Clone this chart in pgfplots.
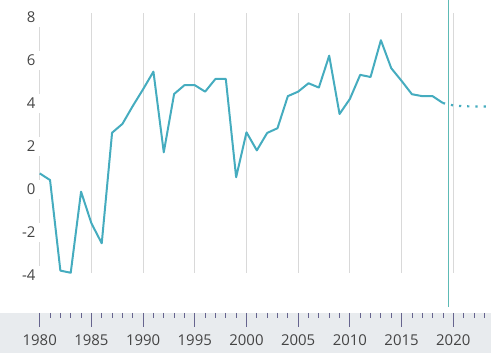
\documentclass[border=0pt]{standalone}
\usepackage{pgfplots}
\pgfplotsset{compat=1.18}
\usepackage{fontspec}
\setmainfont{Open Sans}
\definecolor{linec}{HTML}{45ACBF}
\definecolor{vline}{HTML}{5DBAB5}
\definecolor{gridc}{HTML}{D9D9D9}
\definecolor{bandc}{HTML}{E8EBEE}
\definecolor{tickc}{HTML}{66648E}
\definecolor{textc}{HTML}{444444}
\begin{document}
\begin{tikzpicture}
\begin{axis}[width=491bp,height=353bp,scale only axis,
  xmin=1976.16,xmax=2023.65,ymin=-7.61,ymax=8.8,
  axis lines=none, xtick=\empty, ytick=\empty, clip=true]
\path (axis cs:1976.16,-7.61) rectangle (axis cs:2023.65,8.8);
\fill[bandc] (axis cs:1976.16,-7.61) rectangle (axis cs:2023.65,-5.74);
% grid lines
\pgfplotsinvokeforeach{1985,1990,1995,2000,2005,2010,2015,2020}{
  \draw[gridc, line width=0.8bp] (axis cs:#1,-3.88) -- (axis cs:#1,8.19);
}
% y axis segments
\pgfplotsinvokeforeach{-4,-2,0,2,4,6}{
  \draw[gridc, line width=0.8bp] (axis cs:1980,#1+0.45) -- (axis cs:1980,#1+1.55);
}
% y labels
\pgfplotsinvokeforeach{-4,-2,0,2,4,6,8}{
  \node[anchor=east, inner sep=0pt, text=textc, font=\fontsize{15}{17}\selectfont] at (axis cs:1979.6,#1) {#1};
}
% minor ticks
\pgfplotsinvokeforeach{1981,1982,1983,1984,1986,1987,1988,1989,1991,1992,1993,1994,1996,1997,1998,1999,2001,2002,2003,2004,2006,2007,2008,2009,2011,2012,2013,2014,2016,2017,2018,2019,2021,2022,2023}{
  \draw[tickc, line width=0.8bp] (axis cs:#1,-5.74) -- (axis cs:#1,-5.99);
}
% major ticks and labels
\pgfplotsinvokeforeach{1980,1985,1990,1995,2000,2005,2010,2015,2020}{
  \draw[tickc, line width=0.9bp] (axis cs:#1,-5.74) -- (axis cs:#1,-6.40);
  \node[text=textc, inner sep=0pt, font=\fontsize{15}{17}\selectfont] at (axis cs:#1,-7.01) {#1};
}
\addplot[linec, line width=2bp, line join=round] coordinates {
(1980,0.74)(1981,0.43)(1982,-3.78)(1983,-3.88)(1984,-0.11)(1985,-1.58)
(1986,-2.51)(1987,2.63)(1988,3.04)(1989,3.87)(1990,4.65)(1991,5.47)
(1992,1.72)(1993,4.43)(1994,4.84)(1995,4.84)(1996,4.54)(1997,5.13)
(1998,5.13)(1999,0.56)(2000,2.65)(2001,1.81)(2002,2.62)(2003,2.84)
(2004,4.33)(2005,4.54)(2006,4.93)(2007,4.73)(2008,6.21)(2009,3.50)
(2010,4.20)(2011,5.32)(2012,5.22)(2013,6.93)(2014,5.63)(2015,5.04)
(2016,4.42)(2017,4.33)(2018,4.33)(2019,4.01)
};
\addplot[linec, line width=2.2bp, dash pattern=on 2.2bp off 6bp] coordinates {
(2019,4.01)(2020,3.90)(2021,3.86)(2022,3.85)(2023,3.85)(2024,3.85)
};
\draw[vline, line width=1bp] (axis cs:2019.5,-5.48) -- (axis cs:2019.5,8.8);
\end{axis}
\end{tikzpicture}
\end{document}
